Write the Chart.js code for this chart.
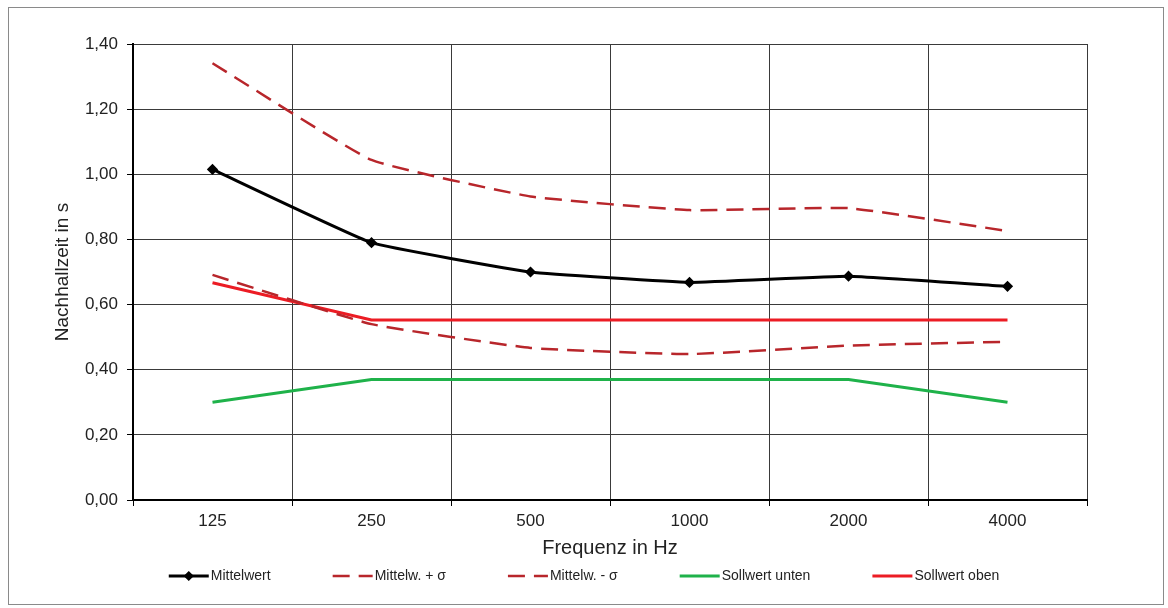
<!DOCTYPE html>
<html>
<head>
<meta charset="utf-8">
<script src="https://cdn.jsdelivr.net/npm/chart.js@4/dist/chart.umd.min.js"></script>
<style>
  html, body { margin: 0; padding: 0; background: #fff; }
  #wrap { position: relative; width: 1168px; height: 608px; }
  #frame { position: absolute; left: 8px; top: 7px; width: 1154px; height: 596px; border: 1px solid #8a8a8a; pointer-events: none; }
</style>
</head>
<body>
<div id="wrap">
  <canvas id="chart" width="1168" height="608"></canvas>
  <div id="frame"></div>
</div>
<script>
const frequencies = ["125", "250", "500", "1000", "2000", "4000"];
const mittelwert = [1.015, 0.79, 0.70, 0.668, 0.687, 0.656];
const mittelwPlus = [1.341, 1.044, 0.932, 0.890, 0.896, 0.826];
const mittelwMinus = [0.691, 0.540, 0.467, 0.448, 0.474, 0.486];
const sollwertUnten = [0.30, 0.37, 0.37, 0.37, 0.37, 0.30];
const sollwertOben = [0.667, 0.553, 0.553, 0.553, 0.553, 0.553];

const fontFamily = "'Liberation Sans', Arial, sans-serif";
const darkRed = "#b8262b";

// legend drawn under the x axis, items spaced like the original
const bottomLegend = {
  id: "bottomLegend",
  afterDraw(chart) {
    const ctx = chart.ctx;
    const lineLen = 40, textGap = 2, itemGap = 62, y = 576;
    ctx.save();
    ctx.font = "14px " + fontFamily;
    const sets = chart.data.datasets;
    const widths = sets.map(ds => lineLen + textGap + ctx.measureText(ds.label).width);
    const total = widths.reduce((a, b) => a + b, 0) + itemGap * (sets.length - 1);
    let x = (chart.width - total) / 2;
    sets.forEach((ds, i) => {
      ctx.strokeStyle = ds.borderColor;
      ctx.lineWidth = ds.borderWidth;
      ctx.setLineDash(ds.borderDash || []);
      ctx.beginPath();
      ctx.moveTo(x, y);
      ctx.lineTo(x + lineLen, y);
      ctx.stroke();
      ctx.setLineDash([]);
      if (ds.pointRadius > 0) {
        Chart.helpers.drawPoint(ctx, { pointStyle: ds.pointStyle, radius: 3, borderWidth: 1 }, x + lineLen / 2, y);
        ctx.fillStyle = ds.borderColor;
        ctx.fill();
      }
      ctx.fillStyle = "#222";
      ctx.textBaseline = "middle";
      ctx.fillText(ds.label, x + lineLen + textGap, y);
      x += widths[i] + itemGap;
    });
    ctx.restore();
  }
};

new Chart(document.getElementById("chart"), {
  type: "line",
  data: {
    labels: frequencies,
    datasets: [
      {
        label: "Mittelwert",
        data: mittelwert,
        borderColor: "#000",
        backgroundColor: "#000",
        borderWidth: 3,
        pointStyle: "rectRot",
        pointRadius: 3.5,
        tension: 0.1,
      },
      {
        label: "Mittelw. + σ",
        data: mittelwPlus,
        borderColor: darkRed,
        borderWidth: 2.5,
        borderDash: [17, 9],
        pointRadius: 0,
        tension: 0.12,
      },
      {
        label: "Mittelw. - σ",
        data: mittelwMinus,
        borderColor: darkRed,
        borderWidth: 2.5,
        borderDash: [17, 9],
        pointRadius: 0,
        tension: 0.12,
      },
      {
        label: "Sollwert unten",
        data: sollwertUnten,
        borderColor: "#1fb24a",
        borderWidth: 3,
        pointRadius: 0,
        tension: 0,
      },
      {
        label: "Sollwert oben",
        data: sollwertOben,
        borderColor: "#ec1c24",
        borderWidth: 3,
        pointRadius: 0,
        tension: 0,
      },
    ],
  },
  options: {
    responsive: false,
    animation: false,
    layout: { padding: { left: 47, right: 81, top: 44, bottom: 44 } },
    plugins: {
      legend: { display: false },
      tooltip: { enabled: false },
    },
    scales: {
      x: {
        offset: true,
        grid: { offset: true, color: "#3a3a3a", lineWidth: 1, tickLength: 6, tickColor: "#000" },
        border: { color: "#000", width: 2 },
        ticks: { color: "#222", font: { family: fontFamily, size: 17 }, padding: 5 },
        title: {
          display: true,
          text: "Frequenz in Hz",
          color: "#222",
          font: { family: fontFamily, size: 20 },
          padding: { top: 0, bottom: 4 },
        },
        afterFit: (scale) => { scale.height = 64; },
      },
      y: {
        min: 0,
        max: 1.4,
        grid: { color: "#3a3a3a", lineWidth: 1, tickLength: 6, tickColor: "#000" },
        border: { color: "#000", width: 2 },
        ticks: {
          stepSize: 0.2,
          color: "#222",
          padding: 9,
          font: { family: fontFamily, size: 17 },
          callback: (v) => v.toFixed(2).replace(".", ","),
        },
        title: {
          display: true,
          text: "Nachhallzeit in s",
          color: "#222",
          font: { family: fontFamily, size: 19 },
          padding: { top: 4, bottom: 0 },
        },
        afterFit: (scale) => { scale.width = 86; },
      },
    },
  },
  plugins: [bottomLegend],
});
</script>
</body>
</html>
